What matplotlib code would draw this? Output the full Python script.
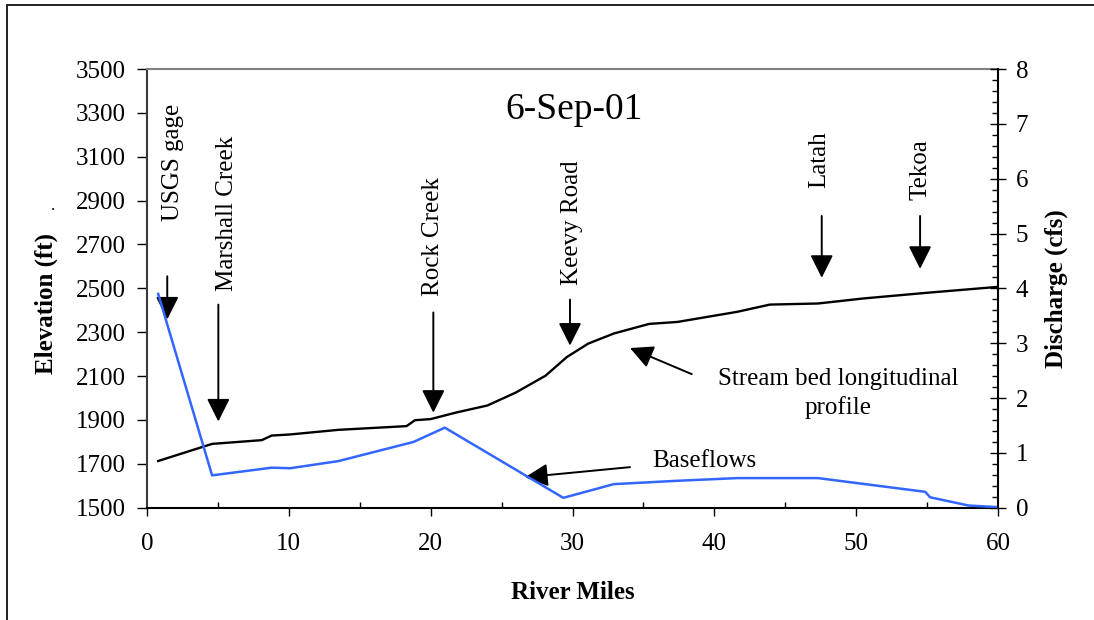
import matplotlib
matplotlib.use('Agg')
import matplotlib.pyplot as plt
from matplotlib.ticker import MultipleLocator
from matplotlib.patches import Rectangle

plt.rcParams['font.family'] = ['Liberation Serif', 'DejaVu Serif']

# Stream bed longitudinal profile (left axis, ft)
elev_miles = [0.8, 4.6, 8.1, 8.8, 10.1, 13.5, 18.3, 18.9, 20.0, 21.8, 24.0, 26.0,
              28.1, 29.6, 31.1, 32.9, 35.4, 37.4, 41.6, 43.9, 47.3, 50.5, 55.0, 60.0]
elevation = [1713, 1791, 1808, 1829, 1834, 1855, 1872, 1899, 1904, 1934, 1966, 2025,
             2102, 2187, 2248, 2294, 2338, 2347, 2393, 2426, 2431, 2454, 2480, 2507]

# Baseflows (right axis, cfs)
flow_miles = [0.8, 4.6, 8.8, 10.1, 13.5, 18.8, 21.0, 29.35, 32.9, 37.3, 41.6, 47.3,
              54.85, 55.2, 57.9, 60.0]
discharge = [3.90, 0.59, 0.73, 0.72, 0.85, 1.20, 1.46, 0.18, 0.43, 0.49, 0.54, 0.54,
             0.29, 0.19, 0.04, 0.01]

# site labels: name, text position, arrow x, arrow tail y, arrow tip y
sites = ['USGS gage', 'Marshall Creek', 'Rock Creek', 'Keevy Road', 'Latah', 'Tekoa']
site_text_x = [1.81, 5.63, 20.19, 29.94, 47.4, 54.5]
site_text_y = [3075, 2841, 2735, 2800, 3085, 3043]
site_arrow_x = [1.44, 5.04, 20.19, 29.82, 47.56, 54.49]
site_tail_y = [2555, 2426, 2390, 2449, 2830, 2830]
site_tip_y = [2358, 1893, 1933, 2239, 2548, 2589]

fig = plt.figure(figsize=(10.94, 6.2), dpi=100)
ax = fig.add_axes([0.1342, 0.1811, 0.7783, 0.7076])
ax2 = ax.twinx()

ax.plot(elev_miles, elevation, color='black', lw=1.7, zorder=3)
ax2.plot(flow_miles, discharge, color='#3366ff', lw=1.8)

ax.set_xlim(0, 60)
ax.set_ylim(1500, 3500)
ax2.set_ylim(0, 8)
ax.set_yticks(range(1500, 3501, 200))
ax.xaxis.set_major_locator(MultipleLocator(10))
ax.xaxis.set_minor_locator(MultipleLocator(5))
ax2.yaxis.set_major_locator(MultipleLocator(1))
ax2.yaxis.set_minor_locator(MultipleLocator(0.2))

ax.tick_params(axis='y', which='major', direction='out', length=7, width=1, pad=8,
               labelsize=18)
ax.tick_params(axis='x', which='major', direction='out', length=6, width=1, pad=12,
               labelsize=18)
ax.tick_params(axis='x', which='minor', direction='in', length=4.5, width=1)
ax2.tick_params(axis='y', which='major', direction='inout', length=11, width=1, pad=7,
                labelsize=18)
ax2.tick_params(axis='y', which='minor', direction='in', length=4.5, width=1)

for s in ['left', 'top', 'bottom']:
    ax2.spines[s].set_visible(False)
ax.spines['right'].set_visible(False)
ax.spines['left'].set_color('#3a3a3a')
ax.spines['left'].set_linewidth(1.5)
ax.spines['top'].set_color('#808080')
ax.spines['top'].set_linewidth(1.5)
ax.spines['bottom'].set_linewidth(1.5)
ax2.spines['right'].set_linewidth(1.5)

ax.set_xlabel('River Miles', fontsize=18, fontweight='bold', va='center')
ax.xaxis.set_label_coords(0.5, -0.194)
ax.set_ylabel('Elevation (ft)', fontsize=18, fontweight='bold', va='center')
ax.yaxis.set_label_coords(-0.1176, 0.4666)
ax2.set_ylabel('Discharge (cfs)', fontsize=18, fontweight='bold', va='center',
               rotation=90)
ax2.yaxis.set_label_coords(1.0686, 0.5)

arrow_style = dict(arrowstyle='-|>,head_length=0.7,head_width=0.35', color='black',
                   lw=1.4, shrinkA=0, shrinkB=0, mutation_scale=20)

for name, tx, ty, axx, tail, tip in zip(sites, site_text_x, site_text_y,
                                         site_arrow_x, site_tail_y, site_tip_y):
    ax.text(tx, ty, name, rotation=90, ha='center', va='center', fontsize=18)
    ax.annotate('', xy=(axx, tip), xytext=(axx, tail), arrowprops=arrow_style)

ax.text(30.1, 3316, '6-Sep-01', ha='center', va='center', fontsize=27)
ax.text(48.7, 2020, 'Stream bed longitudinal\nprofile', ha='center', va='center',
        multialignment='center', fontsize=18, linespacing=1.35)
ax.annotate('', xy=(34.05, 2228), xytext=(38.4, 2109), arrowprops=arrow_style)
ax.text(39.3, 1713, 'Baseflows', ha='center', va='center', fontsize=18)
ax.annotate('', xy=(26.65, 1639), xytext=(34.05, 1685), arrowprops=arrow_style)

fig.text(53 / 1094, 1 - 206 / 620, '.', fontsize=12, ha='center', va='center')

# outer chart border (runs off the right and bottom edges)
fig.add_artist(Rectangle((6.5 / 1094, -0.05), 1.1, 1.05 - 4.5 / 620,
                         transform=fig.transFigure, fill=False, lw=1.4,
                         edgecolor='#202020'))

fig.savefig('out.png', dpi=100)
